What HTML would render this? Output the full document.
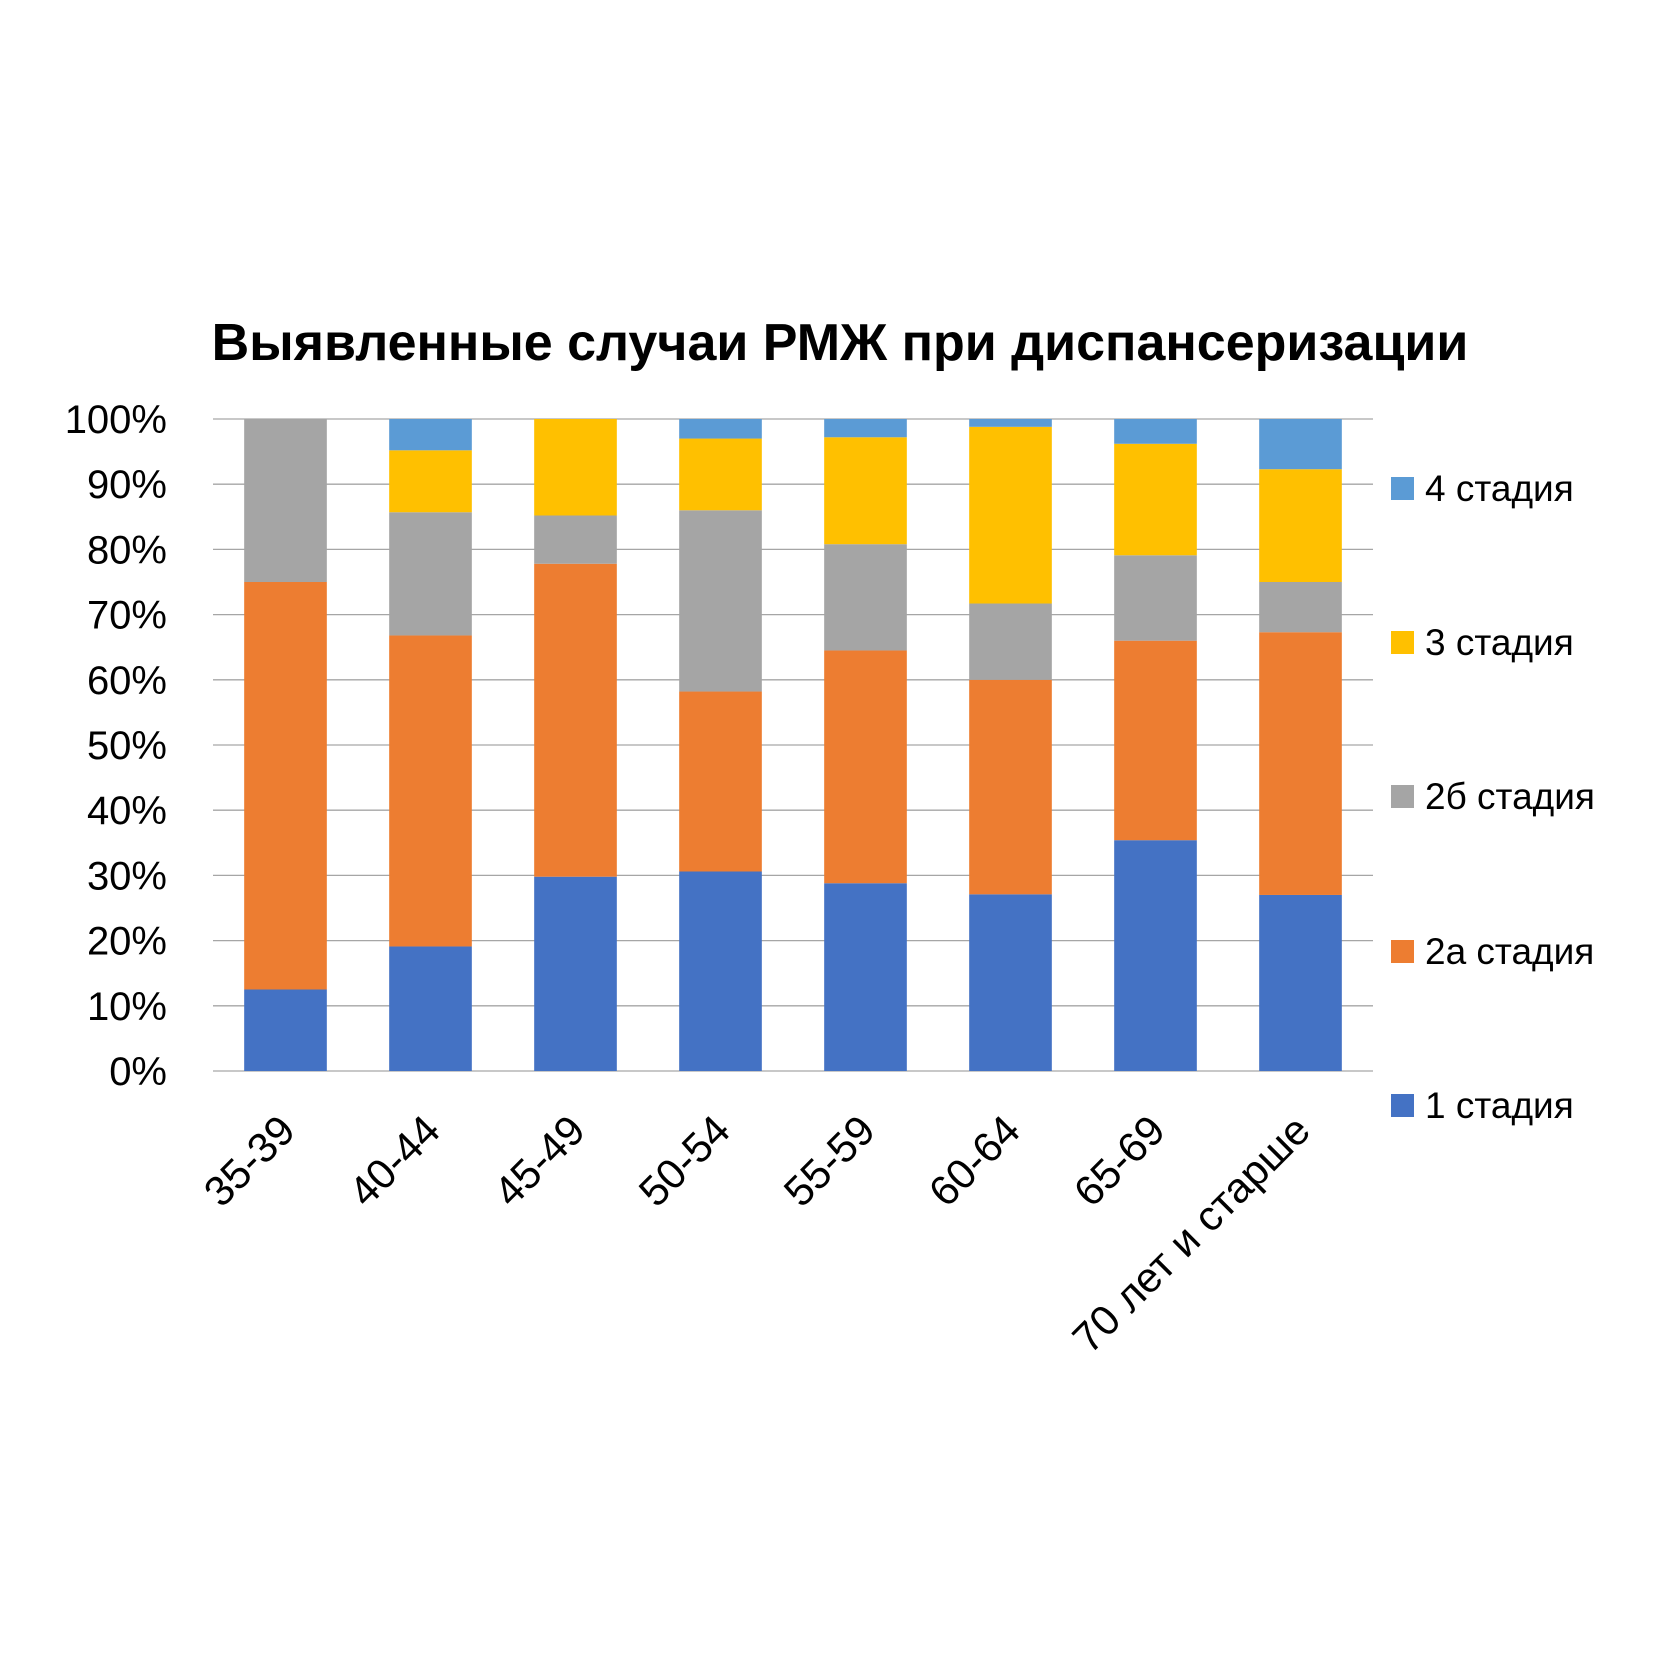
<!DOCTYPE html>
<html><head><meta charset="utf-8"><style>
body{margin:0;background:#fff}
svg{display:block;font-family:"Liberation Sans","DejaVu Sans",sans-serif}
</style></head><body>
<svg id="chart" width="1680" height="1680" viewBox="0 0 1680 1680" xmlns="http://www.w3.org/2000/svg">
<rect width="1680" height="1680" fill="#fff"/>
<text x="840" y="360" text-anchor="middle" font-size="52" font-weight="bold" fill="#000">Выявленные случаи РМЖ при диспансеризации</text>
<g id="grid"></g><g id="bars"></g><g id="ylabels"></g><g id="xlabels"></g><g id="legend"></g>
</svg>
<script>
const categories=["35-39","40-44","45-49","50-54","55-59","60-64","65-69","70 лет и старше"];
const seriesNames=["1 стадия","2а стадия","2б стадия","3 стадия","4 стадия"];
const stage1=[12.5,19.1,29.8,30.6,28.8,27.1,35.4,27.0];
const stage2a=[62.5,47.7,48.0,27.6,35.7,32.9,30.6,40.3];
const stage2b=[25.0,18.9,7.4,27.8,16.3,11.7,13.1,7.7];
const stage3=[0,9.5,14.8,11.0,16.4,27.1,17.1,17.3];
const stage4=[0,4.8,0,3.0,2.8,1.2,3.8,7.7];
const yTicks=["0%","10%","20%","30%","40%","50%","60%","70%","80%","90%","100%"];
const colors=["#4472C4","#ED7D31","#A5A5A5","#FFC000","#5B9BD5"];
const series=[stage1,stage2a,stage2b,stage3,stage4];
const NS="http://www.w3.org/2000/svg";
const L=213,R=1373,T=419,B=1071;
const y=v=>B-(v/100)*(B-T);
const band=(R-L)/categories.length;
const xc=i=>L+band*(i+0.5);
const bw=band*0.57;
function mk(tag,attrs,parent){const e=document.createElementNS(NS,tag);for(const k in attrs)e.setAttribute(k,attrs[k]);document.getElementById(parent).appendChild(e);return e;}
yTicks.forEach((t,i)=>{const v=i*10;
 const g=mk('line',{x1:L,x2:R,y1:y(v),y2:y(v),stroke:'#a6a6a6','stroke-width':1.3},'grid');
 
 
 const tx=mk('text',{x:167,y:y(v)+14,'text-anchor':'end','font-size':40,fill:'#000'},'ylabels');
 tx.textContent=t;
 
 
});
categories.forEach((c,i)=>{let acc=0;
 series.forEach((s,j)=>{const v=s[i];if(v<=0)return;
  const r=mk('rect',{x:xc(i)-bw/2,y:y(acc+v),width:bw,height:y(acc)-y(acc+v),fill:colors[j]},'bars');
  
  
  acc+=v;});
 const tx=mk('text',{x:0,y:0,'text-anchor':'end','font-size':42,fill:'#000',transform:`translate(${xc(i)+12},${B+62}) rotate(-45)`},'xlabels');
 tx.textContent=c;
 
 
});
const legY=[1105,951,796,642,488];
seriesNames.forEach((n,j)=>{
 const r=mk('rect',{x:1391,y:legY[j]-11,width:23,height:23,fill:colors[j]},'legend');
 
 
 const t=mk('text',{x:1425,y:legY[j]+13,'font-size':37,fill:'#000'},'legend');
 t.textContent=n;
 
 
});
</script>
</body></html>
